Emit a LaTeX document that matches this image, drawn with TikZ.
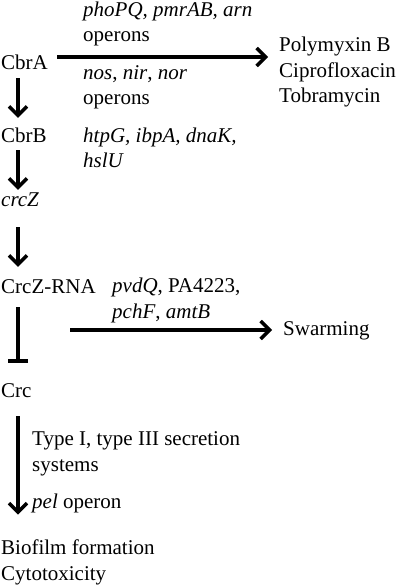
\documentclass[tikz,border=0pt]{standalone}
\usepackage{fontspec}
\setmainfont{Liberation Serif}
\usepackage{tikz}
\usetikzlibrary{arrows.meta,positioning,calc}

\begin{document}
\begin{tikzpicture}[
        x=1pt, y=-1pt,
        font=\fontsize{21}{25.5}\selectfont,
        lbl/.style={anchor=base west, inner sep=0pt, align=left},
        gene/.style={lbl, text height=15pt, text depth=5pt},
        arrow/.style={-{Straight Barb[length=9pt,width=18pt]}, line width=3.5pt},
        inhib/.style={-{Bar[width=20pt]}, line width=3.5pt}
    ]
        \useasboundingbox (0,0) rectangle (400,585);

        % main chain on the left (base = last line)
        \node[gene] (cbra) at (1,70) {CbrA};
        \node[gene] (cbrb) at (1,143) {CbrB};
        \node[gene] (crcz) at (1,207) {\textit{crcZ}};
        \node[gene] (crcrna) at (1,293) {CrcZ-RNA};
        \node[gene] (crc) at (1,397) {Crc};
        \node[lbl] (outc) at (1,580) {Biofilm formation\\Cytotoxicity};

        % targets and phenotypes
        \node[lbl] (res1) at (83,42) {\textit{phoPQ, pmrAB, arn}\\operons};
        \node[lbl] (res2) at (83,105) {\textit{nos}, \textit{nir}, \textit{nor}\\operons};
        \node[lbl] (drugs) at (279,103) {Polymyxin B\\Ciprofloxacin\\Tobramycin};
        \node[lbl] (heat) at (83,168) {\textit{htpG, ibpA, dnaK,}\\\textit{hslU}};
        \node[lbl] (swg) at (112,318) {\textit{pvdQ}, PA4223,\\\textit{pchF}, \textit{amtB}};
        \node[gene] (swarm) at (283,335) {Swarming};
        \node[lbl] (secr) at (32,471) {Type I, type III secretion\\systems};
        \node[lbl] (pel) at (32,508) {\textit{pel} operon};

        \coordinate (a1) at ([xshift=9pt,yshift=8pt]cbra.east);

        \draw[arrow, shorten >=11pt] (a1) -- (a1 -| drugs.west);
        \draw[arrow, shorten >=11pt] ([xshift=22pt]crcrna.center |- swarm.west) -- (swarm.west);
        \draw[arrow, shorten <=3pt, shorten >=10pt] ([xshift=17pt]cbra.south west) -- ([xshift=17pt]cbrb.north west);
        \draw[arrow, shorten <=2pt, shorten >=2pt] ([xshift=17pt]cbrb.south west) -- ([xshift=17pt]crcz.north west);
        \draw[arrow, shorten <=15pt, shorten >=11pt] ([xshift=17pt]crcz.south west) -- ([xshift=17pt]crcrna.north west);
        \draw[inhib, shorten <=9pt, shorten >=19pt] ([xshift=17pt]crcrna.south west) -- ([xshift=17pt]crc.north west);
        \draw[arrow, shorten <=14pt, shorten >=25pt] ([xshift=17pt]crc.south west) -- ([xshift=17pt]outc.north west);
    \end{tikzpicture}
\end{document}
